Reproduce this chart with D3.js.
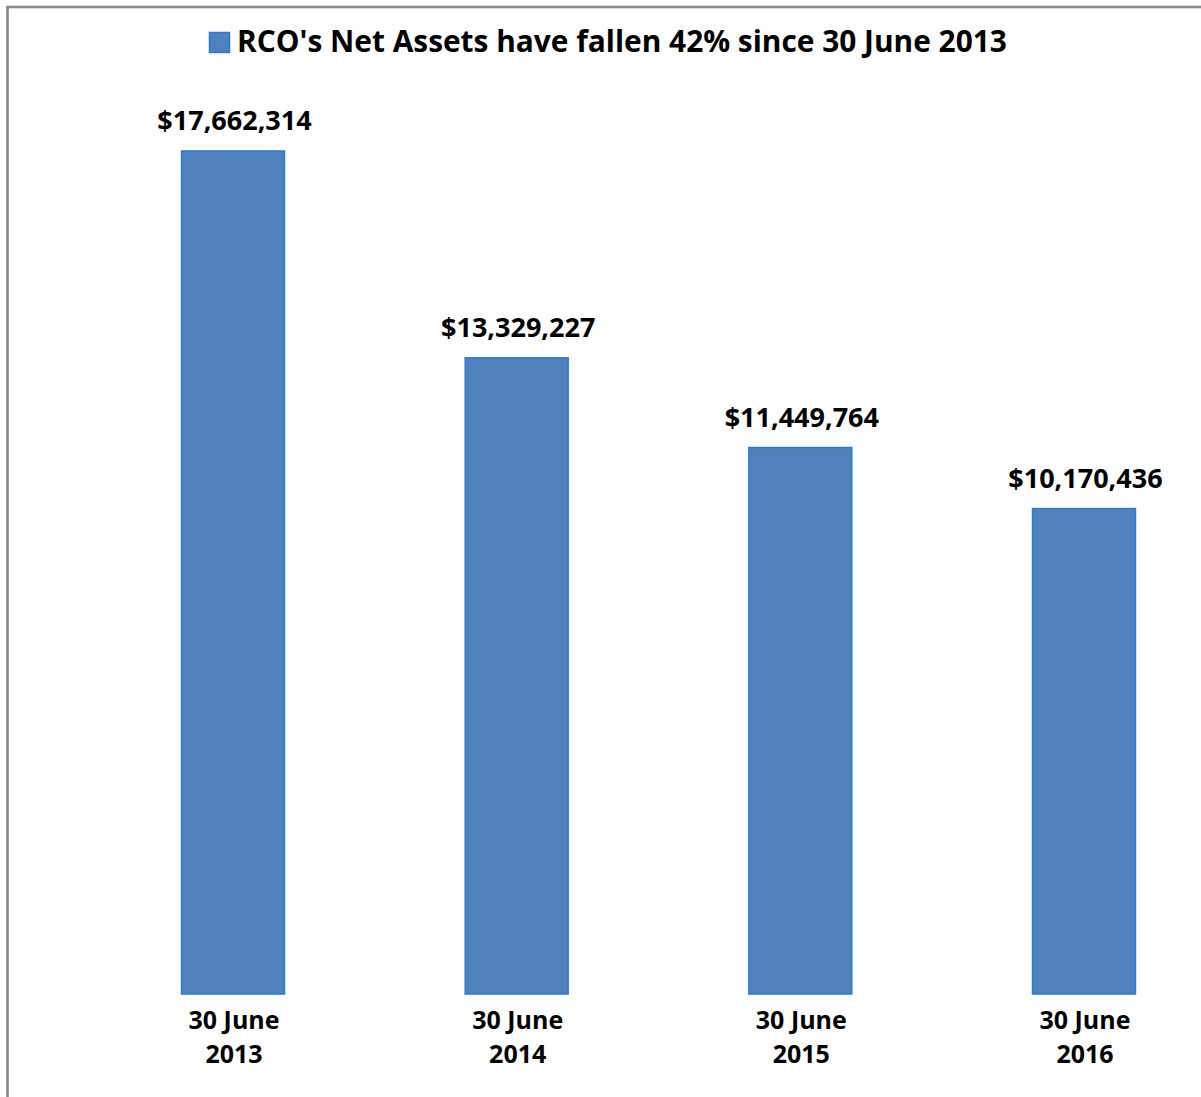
<!DOCTYPE html>
<html><head><meta charset="utf-8">
<script src="https://cdn.jsdelivr.net/npm/d3@7"></script>
<style>html,body{margin:0;padding:0;background:#fff;}svg{display:block;}</style>
</head><body>
<script>
const categories = [["30 June","2013"],["30 June","2014"],["30 June","2015"],["30 June","2016"]];
const values = [17662314, 13329227, 11449764, 10170436];
const seriesName = "RCO's Net Assets have fallen 42% since 30 June 2013";
const yDomain = [0, 20000000];

const W = 1201, H = 1097;
const font = "'Open Sans', sans-serif";
const svg = d3.select("body").append("svg").attr("width", W).attr("height", H);

svg.append("rect").attr("x", 7.5).attr("y", 7).attr("width", W + 10).attr("height", H + 10)
  .attr("fill", "#fff").attr("stroke", "#898989").attr("stroke-width", 2.6);

const keys = categories.map(d => d.join(" "));
const x = d3.scaleBand().domain(keys).range([91.2, 1225.8]).paddingInner(0.637).paddingOuter(0.3185);
const y = d3.scaleLinear().domain(yDomain).range([994, 39.4]);

const data = values.map((v, i) => ({key: keys[i], lines: categories[i], v}));

svg.selectAll("rect.bar").data(data).join("rect").attr("class", "bar")
  .attr("x", d => x(d.key)).attr("width", x.bandwidth())
  .attr("y", d => y(d.v)).attr("height", d => y(0) - y(d.v))
  .attr("fill", "#4F81BD").attr("stroke", "#2A7BD3").attr("stroke-width", 1.5);

const fmt = d3.format("$,");
svg.selectAll("text.val").data(data).join("text").attr("class", "val")
  .attr("x", d => x(d.key) + x.bandwidth() / 2 + 1.5).attr("y", d => y(d.v) - 21)
  .attr("text-anchor", "middle").attr("font-family", font).attr("font-weight", 700)
  .attr("font-size", 27).attr("fill", "#000").text(d => fmt(d.v));

const xAxis = svg.append("g").attr("transform", `translate(0,${y(0)})`)
  .call(d3.axisBottom(x).tickSize(0).tickFormat(""));
xAxis.select(".domain").remove();
xAxis.selectAll(".tick").each(function(k, i) {
  const t = d3.select(this).append("text").attr("text-anchor", "middle")
    .attr("font-family", font).attr("font-weight", 700).attr("font-size", 25).attr("fill", "#000");
  categories[i].forEach((ln, j) => t.append("tspan").attr("x", 1).attr("y", 35 + j * 34).text(ln));
});

// legend
const lg = svg.append("g");
const lt = lg.append("text").attr("y", 52).attr("font-family", font).attr("font-weight", 700)
  .attr("font-size", 30).attr("fill", "#000").text(seriesName);
const targetW = 770;
const w0 = lt.node().getComputedTextLength();
lt.attr("font-size", 30 * targetW / w0).attr("x", 237);
lg.append("rect").attr("x", 209.5).attr("y", 32.5).attr("width", 20).attr("height", 20)
  .attr("fill", "#4F81BD").attr("stroke", "#2A7BD3").attr("stroke-width", 1.5);
</script>
</body></html>
